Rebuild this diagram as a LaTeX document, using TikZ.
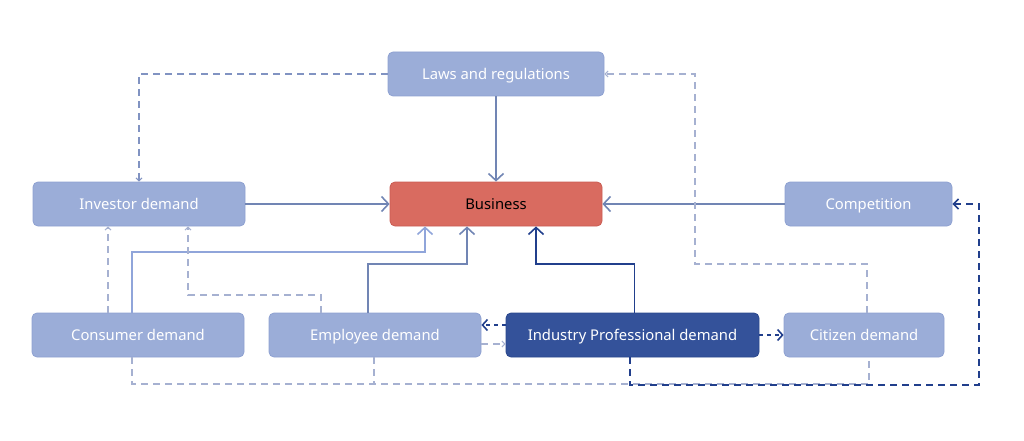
\documentclass[tikz,border=0pt]{standalone}
\usepackage{fontspec}
\setmainfont{Noto Sans}
\usetikzlibrary{arrows.meta}
\definecolor{nodefill}{HTML}{9BADD8}
\definecolor{nodeborder}{HTML}{8EA1D1}
\definecolor{indfill}{HTML}{34529A}
\definecolor{indborder}{HTML}{2A478C}
\definecolor{busfill}{HTML}{D96B60}
\definecolor{busborder}{HTML}{C95C52}
\definecolor{midline}{HTML}{7185B4}
\definecolor{lightline}{HTML}{90A5DA}
\definecolor{darkline}{HTML}{213F8C}
\definecolor{dashlight}{HTML}{A6B1D1}
\definecolor{dashmid}{HTML}{8193C2}
\tikzset{
  box/.style={draw=nodeborder, fill=nodefill, rounded corners=5pt, minimum height=44pt,
    text=white, font=\fontsize{14.8}{17}\selectfont, inner sep=0pt, line width=0.8pt,
    text height=10.8pt, text depth=0pt},
  busbox/.style={box, draw=busborder, fill=busfill, text=black},
  indbox/.style={box, draw=indborder, fill=indfill},
  solidcon/.style={line width=1.6pt, -{Straight Barb[length=7pt,width=15pt,line width=1.6pt]}},
  lightdash/.style={draw=dashlight, line width=1.1pt, dash pattern=on 7pt off 5pt,
    -{Straight Barb[length=3pt,width=6pt,line width=1pt]}},
  darkdash/.style={draw=darkline, line width=1.6pt, dash pattern=on 7pt off 5pt,
    -{Straight Barb[length=5pt,width=10pt,line width=1.6pt]}},
  darkshort/.style={draw=darkline, line width=1.6pt, dash pattern=on 4pt off 4pt,
    -{Straight Barb[length=5pt,width=11pt,line width=1.6pt]}}
}
\begin{document}
\begin{tikzpicture}[x=1pt,y=-1pt]
\useasboundingbox (0,0) rectangle (1024,441);
\node[box, minimum width=216pt] (laws) at (496,74) {Laws and regulations};
\node[busbox, minimum width=212pt] (bus) at (496,204) {Business};
\node[box, minimum width=212pt] (inv) at (139,204) {Investor demand};
\node[box, minimum width=167pt] (comp) at (868.5,204) {Competition};
\node[box, minimum width=212pt] (cons) at (138,335) {Consumer demand};
\node[box, minimum width=212pt] (emp) at (375,335) {Employee demand};
\node[indbox, minimum width=253pt] (ind) at (632.5,335) {Industry Professional demand};
\node[box, minimum width=160pt] (cit) at (864,335) {Citizen demand};

% light dashed bottom lines (no arrowheads)
\draw[draw=dashlight, line width=1.1pt, dash pattern=on 7pt off 5pt]
  ([xshift=-6pt]cons.south) |- (600,384) -| ([xshift=5pt]cit.south);
\draw[draw=dashlight, line width=1.1pt, dash pattern=on 7pt off 5pt]
  ([xshift=-1pt]emp.south) -- ++(0,27);

% solid connectors
\draw[solidcon, midline] (laws) -- (bus);
\draw[solidcon, midline] (inv.east) -- (bus.west);
\draw[solidcon, midline] (comp.west) -- (bus.east);
\draw[solidcon, lightline] ([xshift=-6pt]cons.north) |- (300,252) -| ([xshift=-71pt]bus.south);
\draw[solidcon, midline] ([xshift=-7pt]emp.north) |- (420,264) -| ([xshift=-29pt]bus.south);
\draw[solidcon, darkline] ([xshift=2pt]ind.north) |- (580,264) -| ([xshift=40pt]bus.south);

% dashed connectors
\draw[lightdash, draw=dashmid] (laws.west) -| (inv.north);
\draw[lightdash] ([xshift=3pt]cit.north) |- (780,264) -| (695,150) |- (laws.east);
\draw[lightdash] ([xshift=-30pt]cons.north) -- ([xshift=-31pt]inv.south);
\draw[lightdash] ([xshift=-54pt]emp.north) |- (250,295) -| ([xshift=49pt]inv.south);
\draw[lightdash] ([yshift=-9pt]emp.east) -- ([yshift=-9pt]ind.west);
\draw[darkshort] ([yshift=10pt]ind.west) -- ([yshift=10pt]emp.east);
\draw[darkshort] (ind.east) -- (cit.west);
\draw[darkdash] ([xshift=-2.5pt]ind.south) |- (979,385) |- (comp.east);
\end{tikzpicture}
\end{document}
